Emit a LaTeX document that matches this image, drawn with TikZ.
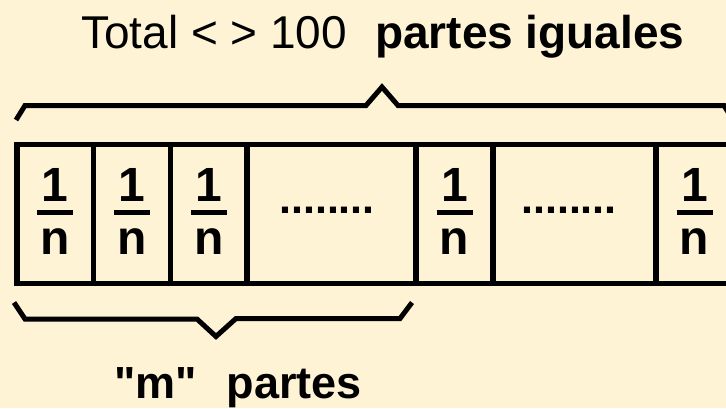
\documentclass[tikz,border=0pt]{standalone}
\usepackage{fontspec}
% plain ASCII quotes, no TeX input ligatures
\setmainfont{Liberation Sans}[Ligatures=TeXOff]
\definecolor{paper}{HTML}{FFF3D6}
\newcommand{\capfont}{\fontsize{46}{50}\selectfont}
\newcommand{\capbold}{\fontsize{46}{50}\selectfont\bfseries}
\newcommand{\subbold}{\fontsize{45}{50}\selectfont\bfseries}
\newcommand{\fracfont}{\fontsize{48}{54}\selectfont\bfseries}
\newcommand{\dotfont}{\fontsize{43}{48}\selectfont\bfseries}
\tikzset{
  cellbox/.style={draw=black, line width=5.5pt, minimum height=139pt,
    inner sep=0pt, outer sep=0pt},
  fracnum/.style={font=\fracfont, inner sep=0pt, anchor=base},
  fracbar/.style={line width=5pt},
  bracepath/.style={line width=5pt, line join=miter},
  lbl/.style={inner sep=0pt, anchor=base west}
}
\begin{document}
\begin{tikzpicture}[x=1pt, y=-1pt]
  \useasboundingbox (0,0) rectangle (726,408);
  \fill[paper] (0,0) rectangle (726,408);
  \clip (0,0) rectangle (726,408);

  % caption above
  \node[lbl, font=\capfont] (total) at (81,48) {Total < > 100};
  \node[lbl, font=\capbold] (iguales) at (375,48) {partes iguales};

  % upper brace over the whole strip
  \draw[bracepath] (16,120) -- (25,105.5) -- (366,105.5) -- (382,87)
    -- (398,105.5) -- (724,105.5) -- (733,120);

  % the strip of cells: left edge / right edge
  \foreach \i/\l/\r in {1/17/93.5, 2/93.5/170.5, 3/170.5/247, 4/247/416,
                        5/416/493, 6/493/656, 7/656/733} {
    \node[cellbox, minimum width={(\r-\l)*1pt}] (c\i) at ({(\l+\r)/2}, 214) {};
  }

  % unit fractions
  \foreach \i in {1,2,3,5,7} {
    \node[fracnum] (one\i) at ([yshift=13pt]c\i.center) {1};
    \node[fracnum] (den\i) at ([yshift=-40pt]c\i.center) {n};
    \draw[fracbar] ([xshift=-18pt, yshift=1.5pt]c\i.center)
      -- ([xshift=18pt, yshift=1.5pt]c\i.center);
  }

  % elided cells
  \node[fracnum, font=\dotfont] (gap4) at ([xshift=-4.5pt, yshift=1pt]c4.center) {........};
  \node[fracnum, font=\dotfont] (gap6) at ([xshift=-5.5pt, yshift=1pt]c6.center) {........};

  % lower brace under the first "m" parts
  \draw[bracepath] (14,302.5) -- (25,319) -- (197,319) -- (216,336.5)
    -- (236,318.5) -- (400,318.5) -- (412,302.5);

  \node[lbl, font=\subbold] (mparts) at (114,398) {"m"\hspace{30pt}partes};
\end{tikzpicture}
\end{document}
